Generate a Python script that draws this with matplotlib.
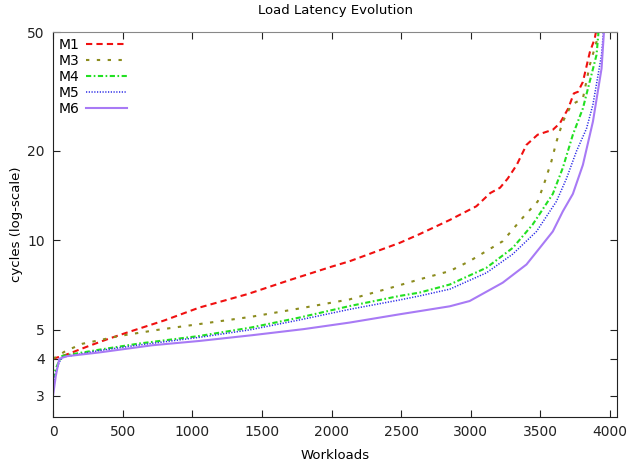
import matplotlib
matplotlib.use("Agg")
import matplotlib.pyplot as plt
from matplotlib.ticker import FixedLocator, NullLocator, FixedFormatter

# ---- data ----
m1_x = [0, 90, 260, 400, 550, 800, 1050, 1400, 1700, 2000, 2130, 2490, 2630, 2850, 3040, 3140,
        3210, 3265, 3330, 3400, 3480, 3590, 3640, 3700, 3740, 3770, 3805, 3855, 3890, 3915]
m1_y = [4.0, 4.12, 4.42, 4.67, 4.93, 5.38, 5.94, 6.6, 7.35, 8.15, 8.5, 9.8, 10.47, 11.7, 13.0, 14.4,
        15.0, 16.1, 17.9, 20.9, 22.6, 23.5, 24.7, 27.7, 31.1, 31.5, 34.0, 42.8, 47.5, 55]

m3_x = [0, 92, 210, 476, 750, 1051, 1420, 1770, 2130, 2420, 2632, 2850, 2992, 3229, 3373, 3481,
        3531, 3579, 3615, 3661, 3723, 3805, 3855, 3903, 3920]
m3_y = [4.0, 4.25, 4.49, 4.77, 5.0, 5.23, 5.53, 5.9, 6.33, 6.91, 7.39, 7.88, 8.51, 9.92, 11.9, 13.5,
        15.7, 18.4, 21.4, 25.0, 28.5, 29.9, 38.8, 46.4, 55]

m4_x = [0, 20, 45, 66, 332, 620, 1051, 1420, 1770, 2129, 2488, 2632, 2849, 3112, 3301, 3445,
        3589, 3661, 3733, 3805, 3903, 3925]
m4_y = [3.43, 3.7, 3.95, 4.09, 4.29, 4.5, 4.77, 5.09, 5.5, 6.01, 6.5, 6.67, 7.1, 8.08, 9.42, 11.3,
        14.3, 17.5, 22.6, 27.7, 41.9, 55]

m5_x = [0, 20, 45, 70, 332, 620, 1051, 1411, 1770, 2129, 2488, 2632, 2849, 3112, 3301, 3472,
        3615, 3687, 3759, 3831, 3877, 3939, 3960]
m5_y = [3.25, 3.6, 3.9, 4.05, 4.26, 4.45, 4.72, 5.0, 5.4, 5.86, 6.3, 6.5, 6.85, 7.77, 8.98, 10.7,
        13.5, 16.1, 19.9, 23.7, 28.5, 41.9, 55]

m6_x = [0, 20, 45, 100, 332, 713, 1051, 1432, 1800, 2129, 2488, 2632, 2849, 2992, 3229, 3400,
        3495, 3589, 3661, 3733, 3805, 3877, 3939, 3955, 3965]
m6_y = [3.0, 3.5, 4.0, 4.08, 4.2, 4.44, 4.59, 4.80, 5.03, 5.29, 5.64, 5.78, 6.0, 6.25, 7.2, 8.29,
        9.42, 10.7, 12.5, 14.3, 17.9, 25.0, 37.7, 49, 55]

labels = ["M1", "M3", "M4", "M5", "M6"]
x_ticks = [0, 500, 1000, 1500, 2000, 2500, 3000, 3500, 4000]
y_ticks = [3, 4, 5, 10, 20, 50]

# ---- figure ----
fig = plt.figure(figsize=(6.29, 4.62), dpi=100)
ax = fig.add_axes([53 / 629, 1 - 417 / 462, (617 - 53) / 629, (417 - 32) / 462])

lw = 1.5
ax.plot(m1_x, m1_y, color="#f01010", lw=lw, linestyle=(0, (3, 2)), label=labels[0])
ax.plot(m3_x, m3_y, color="#8c8c1e", lw=lw, linestyle=(0, (1.6, 3.6)), label=labels[1])
ax.plot(m4_x, m4_y, color="#22e022", lw=lw, linestyle=(0, (2.5, 1.2, 0.8, 1.2)), label=labels[2])
ax.plot(m5_x, m5_y, color="#2a2ae6", lw=1.1, linestyle=(0, (0.8, 1.0)), label=labels[3])
ax.plot(m6_x, m6_y, color="#a87af5", lw=lw, linestyle="-", label=labels[4])

ax.set_yscale("log")
ax.set_xlim(0, 4050)
ax.set_ylim(2.55, 50)
ax.xaxis.set_major_locator(FixedLocator(x_ticks))
ax.yaxis.set_major_locator(FixedLocator(y_ticks))
ax.yaxis.set_major_formatter(FixedFormatter([str(t) for t in y_ticks]))
ax.yaxis.set_minor_locator(NullLocator())
ax.xaxis.set_minor_locator(NullLocator())
ax.tick_params(direction="in", top=True, right=True, length=5, width=0.8,
               labelsize=10, colors="#222222", pad=6)

for s in ["left", "bottom", "right"]:
    ax.spines[s].set_color("#222222")
ax.spines["top"].set_color("#888888")

ax.set_xlabel("Workloads", fontsize=9.5, labelpad=7)
ax.set_ylabel("cycles (log-scale)", fontsize=9.5, labelpad=3)
ax.set_title("Load Latency Evolution", fontsize=9.5, pad=13)

leg = ax.legend(loc="upper left", frameon=False, markerfirst=False, fontsize=10,
                handlelength=2.9, handletextpad=0.5, labelspacing=0.15,
                borderaxespad=0.1, borderpad=0.3)

fig.savefig("out.png", dpi=100)
